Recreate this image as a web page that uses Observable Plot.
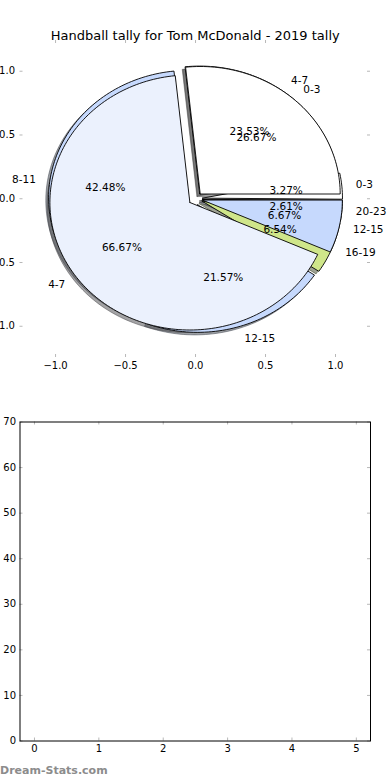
<!DOCTYPE html>
<html><head><meta charset="utf-8">
<script src="https://cdn.jsdelivr.net/npm/d3@7"></script>
<script src="https://cdn.jsdelivr.net/npm/@observablehq/plot@0.6"></script>
<style>
body{margin:0;background:#fff;font-family:"DejaVu Sans",sans-serif;}
#wrap{position:relative;width:390px;height:780px;overflow:hidden;background:#fff;}
#p1{position:absolute;left:0;top:0;}
#p2{position:absolute;left:0;top:390px;}
#wm{position:absolute;left:0;top:764px;font:bold 11px "DejaVu Sans";color:#8c8c8c;white-space:nowrap;}
</style></head><body>
<div id="wrap"><div id="p1"></div><div id="p2"></div><div id="wm">Dream-Stats.com</div></div>
<script>
const title = "Handball tally for Tom McDonald - 2019 tally";
// first pie (drawn underneath), counter-clockwise order from the start angle
const labelsA = ["8-11", "12-15", "16-19", "20-23", "0-3", "4-7"];
const valuesA = [42.48, 21.57, 6.54, 2.61, 3.27, 23.53];
const colorsA = ["#c6d9fd", "#c6d9fd", "#cfe68a", "#9a9a9a", "#ffffff", "#ffffff"];
// second pie (drawn on top)
const labelsB = ["4-7", "12-15", "0-3"];
const valuesB = [66.67, 6.67, 26.67];
const colorsB = ["#ebf1fd", "#c6d9fd", "#ffffff"];
const startAngle = 96;
const explode = 0.05;
const pieTicks = [-1, -0.5, 0, 0.5, 1];
const barXTicks = [0, 1, 2, 3, 4, 5];
const barYTicks = [0, 10, 20, 30, 40, 50, 60, 70];

const rad = Math.PI / 180;
function wedges(labels, values, colors, pie) {
  const total = d3.sum(values);
  let a = startAngle;
  return values.map((v, i) => {
    const a0 = a, a1 = a + v / total * 360; a = a1;
    const mid = (a0 + a1) / 2 * rad;
    return {pie, i, label: labels[i], value: v, color: colors[i], a0, a1, mid,
            cx: explode * Math.cos(mid), cy: explode * Math.sin(mid)};
  });
}
function outline(w, dx, dy, shadow) {
  const c = d3.rgb(w.color);
  const col = shadow ? d3.rgb(c.r * 0.3, c.g * 0.3, c.b * 0.3).formatHex() : w.color;
  const id = w.pie + w.i + (shadow ? "s" : "");
  const pts = [{x: w.cx + dx, y: w.cy + dy}];
  const n = Math.max(3, Math.ceil((w.a1 - w.a0) / 1.5));
  for (let k = 0; k <= n; k++) {
    const t = (w.a0 + (w.a1 - w.a0) * k / n) * rad;
    pts.push({x: w.cx + dx + Math.cos(t), y: w.cy + dy + Math.sin(t)});
  }
  pts.push({x: w.cx + dx, y: w.cy + dy});
  return pts.map(p => ({...p, id, color: col}));
}
const wA = wedges(labelsA, valuesA, colorsA, "A");
const wB = wedges(labelsB, valuesB, colorsB, "B");
const shadowPts = [...wA, ...wB].flatMap(w => outline(w, -0.02, -0.02, true));
const ptsA = wA.flatMap(w => outline(w, 0, 0, false));
const ptsB = wB.flatMap(w => outline(w, 0, 0, false));
const allW = [...wA, ...wB];
const pctTexts = allW.map(w => ({x: w.cx + 0.6 * Math.cos(w.mid), y: w.cy + 0.6 * Math.sin(w.mid),
                                  t: w.value.toFixed(2) + "%"}));
const lab = allW.map(w => ({x: w.cx + 1.1 * Math.cos(w.mid), y: w.cy + 1.1 * Math.sin(w.mid), t: w.label}));
const fmt = d => d.toFixed(1).replace("-", "\u2212");

const W1 = 390, H1 = 390, mL1 = 19.5, mR1 = 20, mT1 = 40, mB1 = 33;
const fw1 = W1 - mL1 - mR1, fh1 = H1 - mT1 - mB1;
const tickCol = "#b8b8b8";
const p1 = Plot.plot({
  width: W1, height: H1, marginLeft: mL1, marginRight: mR1, marginTop: mT1, marginBottom: mB1,
  x: {domain: [-1.254, 1.25]},
  y: {domain: [-1.245, 1.241]},
  color: {type: "identity"},
  style: {fontFamily: "DejaVu Sans", fontSize: "10px", background: "white", color: "black"},
  marks: [
    Plot.line(shadowPts, {x: "x", y: "y", z: "id", fill: "color", stroke: "color", fillOpacity: 0.5, strokeOpacity: 0.5, strokeWidth: 1}),
    Plot.line(ptsA, {x: "x", y: "y", z: "id", fill: "color", stroke: "black", strokeWidth: 0.9, strokeLinejoin: "miter"}),
    Plot.line(ptsB, {x: "x", y: "y", z: "id", fill: "color", stroke: "black", strokeWidth: 0.9, strokeLinejoin: "miter"}),
    Plot.text(pctTexts, {x: "x", y: "y", text: "t", fontSize: 10.5, fill: "black"}),
    Plot.text(lab.filter(d => d.x > 0), {x: "x", y: "y", text: "t", textAnchor: "start", fontSize: 10.5, fill: "black"}),
    Plot.text(lab.filter(d => d.x <= 0), {x: "x", y: "y", text: "t", textAnchor: "end", fontSize: 10.5, fill: "black"}),
    Plot.tickX(pieTicks, {x: d => d, stroke: tickCol, insetBottom: fh1 - 3}),
    Plot.tickX(pieTicks, {x: d => d, stroke: tickCol, insetTop: fh1 - 3}),
    Plot.tickY(pieTicks, {y: d => d, stroke: tickCol, insetRight: fw1 - 3}),
    Plot.tickY(pieTicks, {y: d => d, stroke: tickCol, insetLeft: fw1 - 3}),
    Plot.axisX({ticks: pieTicks, tickSize: 0, tickPadding: 4, tickFormat: fmt, label: null, fontSize: 10}),
    Plot.axisY({ticks: pieTicks, tickSize: 0, tickPadding: 5, tickFormat: fmt, label: null, fontSize: 10}),
    Plot.text([title], {frameAnchor: "top", dy: -10, fontSize: 13, fill: "black"})
  ]
});
document.getElementById("p1").appendChild(p1);

const W2 = 390, H2 = 390, mL2 = 19.5, mR2 = 20, mT2 = 31.5, mB2 = 39.5;
const fw2 = W2 - mL2 - mR2, fh2 = H2 - mT2 - mB2;
const p2 = Plot.plot({
  width: W2, height: H2, marginLeft: mL2, marginRight: mR2, marginTop: mT2, marginBottom: mB2,
  x: {domain: [-0.225, 5.22]},
  y: {domain: [0, 70]},
  style: {fontFamily: "DejaVu Sans", fontSize: "10px", background: "white", color: "black"},
  marks: [
    Plot.tickX(barXTicks, {x: d => d, stroke: tickCol, insetBottom: fh2 - 3}),
    Plot.tickX(barXTicks, {x: d => d, stroke: tickCol, insetTop: fh2 - 3}),
    Plot.tickY(barYTicks, {y: d => d, stroke: tickCol, insetRight: fw2 - 3}),
    Plot.tickY(barYTicks, {y: d => d, stroke: tickCol, insetLeft: fw2 - 3}),
    Plot.frame({stroke: "black", strokeWidth: 1}),
    Plot.axisX({ticks: barXTicks, tickSize: 0, tickPadding: 4, tickFormat: d => String(d), label: null, fontSize: 10}),
    Plot.axisY({ticks: barYTicks, tickSize: 0, tickPadding: 4, tickFormat: d => String(d), label: null, fontSize: 10})
  ]
});
document.getElementById("p2").appendChild(p2);
</script>
</body></html>
